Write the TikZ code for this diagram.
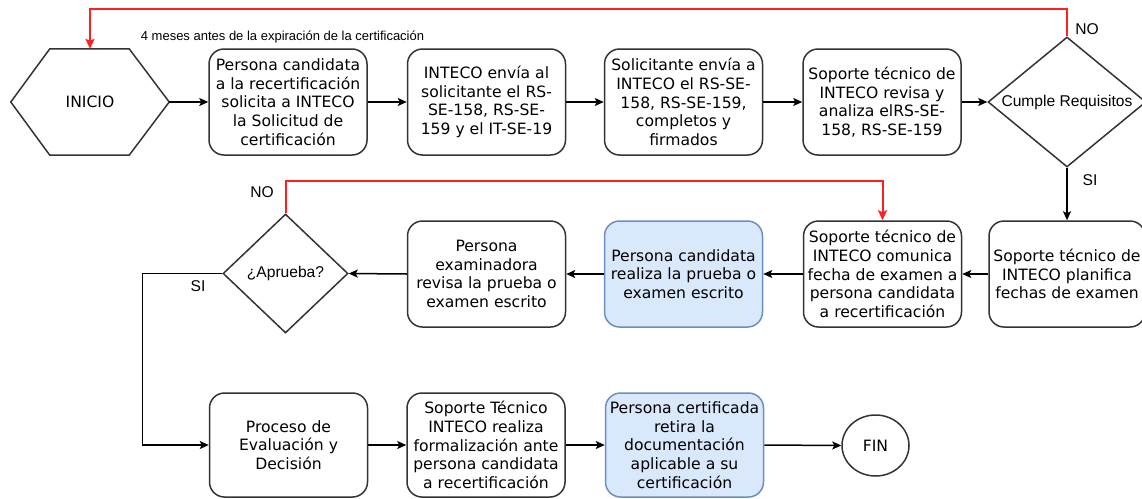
\documentclass[tikz,border=0pt]{standalone}
\usepackage{fontspec}
\setmainfont{DejaVu Sans}
\newfontfamily\lab{Liberation Sans}
\usetikzlibrary{arrows.meta,shapes.geometric}
\definecolor{edge}{HTML}{333333}
\definecolor{bluefill}{HTML}{DAE8FC}
\definecolor{bluedraw}{HTML}{6C8EBF}
\definecolor{redline}{HTML}{FF2020}
\tikzset{
  box/.style={draw=edge, line width=1.5pt, rounded corners=15pt, minimum width=158pt, minimum height=106pt, inner sep=0pt, align=center, font=\fontsize{15.6}{18.6}\selectfont},
  bluebox/.style={box, draw=bluedraw, fill=bluefill},
  decision/.style={diamond, draw=edge, line width=1.5pt, inner sep=0pt},
  arr/.style={draw=black, line width=1.5pt, -{Stealth[length=9pt,width=8pt,inset=2pt]}},
  redarr/.style={draw=redline, line width=2pt, -{Stealth[length=10pt,width=9pt,inset=2pt]}},
  lbl/.style={font=\lab\fontsize{15.6}{18}\selectfont, inner sep=0pt},
  small/.style={font=\lab\fontsize{13}{15}\selectfont, inner sep=0pt}
}
\begin{document}
\begin{tikzpicture}[x=1pt,y=-1pt]
\useasboundingbox (0,0) rectangle (1142,498);
% row 1
\node[minimum width=158pt, minimum height=106pt, inner sep=0pt, font=\fontsize{15.6}{18.6}\selectfont] (inicio) at (90,102) {INICIO};
\draw[edge, line width=1.5pt] (inicio.west) -- ([xshift=39pt]inicio.north west) -- ([xshift=-40pt]inicio.north east) -- (inicio.east) -- ([xshift=-40pt]inicio.south east) -- ([xshift=39pt]inicio.south west) -- cycle;
\node[box] (b1) at (288,102) {Persona candidata\\a la recertificación\\solicita a INTECO\\la Solicitud de\\certificación};
\node[box] (b2) at (486.5,102) {INTECO envía al\\solicitante el RS-\\SE-158, RS-SE-\\159 y el IT-SE-19};
\node[box] (b3) at (683.5,102) {Solicitante envía a\\INTECO el RS-SE-\\158, RS-SE-159,\\completos y\\firmados};
\node[box] (b4) at (882,102) {Soporte técnico de\\INTECO revisa y\\analiza elRS-SE-\\158, RS-SE-159};
\node[decision, minimum width=158pt, minimum height=130pt, label={[lbl]center:Cumple Requisitos}] (cumple) at (1067,102) {};
% row 2
\node[box, minimum width=156pt] (plan) at (1067,274) {Soporte técnico de\\INTECO planifica\\fechas de examen};
\node[box] (comm) at (882.5,274) {Soporte técnico de\\INTECO comunica\\fecha de examen a\\persona candidata\\a recertificación};
\node[bluebox] (real) at (683.5,274) {Persona candidata\\realiza la prueba o\\examen escrito};
\node[box] (exam) at (486.5,274) {Persona\\examinadora\\revisa la prueba o\\examen escrito};
\node[decision, minimum width=125pt, minimum height=119pt, label={[lbl]center:¿Aprueba?}] (aprueba) at (285.5,273.5) {};
% row 3
\node[box, minimum height=104pt] (proc) at (288.5,445) {Proceso de\\Evaluación y\\Decisión};
\node[box, minimum height=104pt] (form) at (486,445) {Soporte Técnico\\INTECO realiza\\formalización ante\\persona candidata\\a recertificación};
\node[bluebox, minimum height=104pt] (cert) at (684.5,445) {Persona certificada\\retira la\\documentación\\aplicable a su\\certificación};
\node[ellipse, draw=edge, line width=1.5pt, minimum width=67pt, minimum height=61pt, inner sep=0pt, font=\fontsize{15.6}{18.6}\selectfont] (fin) at (875.5,445.5) {FIN};
% connectors row 1
\draw[arr] (inicio.east) -- (b1.west);
\draw[arr] (b1.east) -- (b2.west);
\draw[arr] (b2.east) -- (b3.west);
\draw[arr] (b3.east) -- (b4.west);
\draw[arr] (b4.east) -- (cumple.west);
\draw[redarr] (cumple.north) -- ++(0,-27) -| (inicio.north);
\node[small] (meses) at (282.5,37) {4 meses antes de la expiración de la certificación};
\node[lbl] (no1) at (1087,29) {NO};
\draw[arr] (cumple.south) -- (plan.north);
\node[lbl] (si1) at (1090,180) {SI};
% connectors row 2
\draw[arr] (plan.west) -- (comm.east);
\draw[arr] (comm.west) -- (real.east);
\draw[arr] (real.west) -- (exam.east);
\draw[arr] (exam.west) -- (aprueba.east);
\draw[redarr] (aprueba.north) -- ++(0,-32) -| (comm.north);
\node[lbl] (no2) at (262,192) {NO};
\draw[arr] (aprueba.west) -- ++(-80,0) |- (proc.west);
\node[lbl] (si2) at (198,286) {SI};
% connectors row 3
\draw[arr] (proc.east) -- (form.west);
\draw[arr] (form.east) -- (cert.west);
\draw[arr] (cert.east) -- (fin.west);
\end{tikzpicture}
\end{document}
